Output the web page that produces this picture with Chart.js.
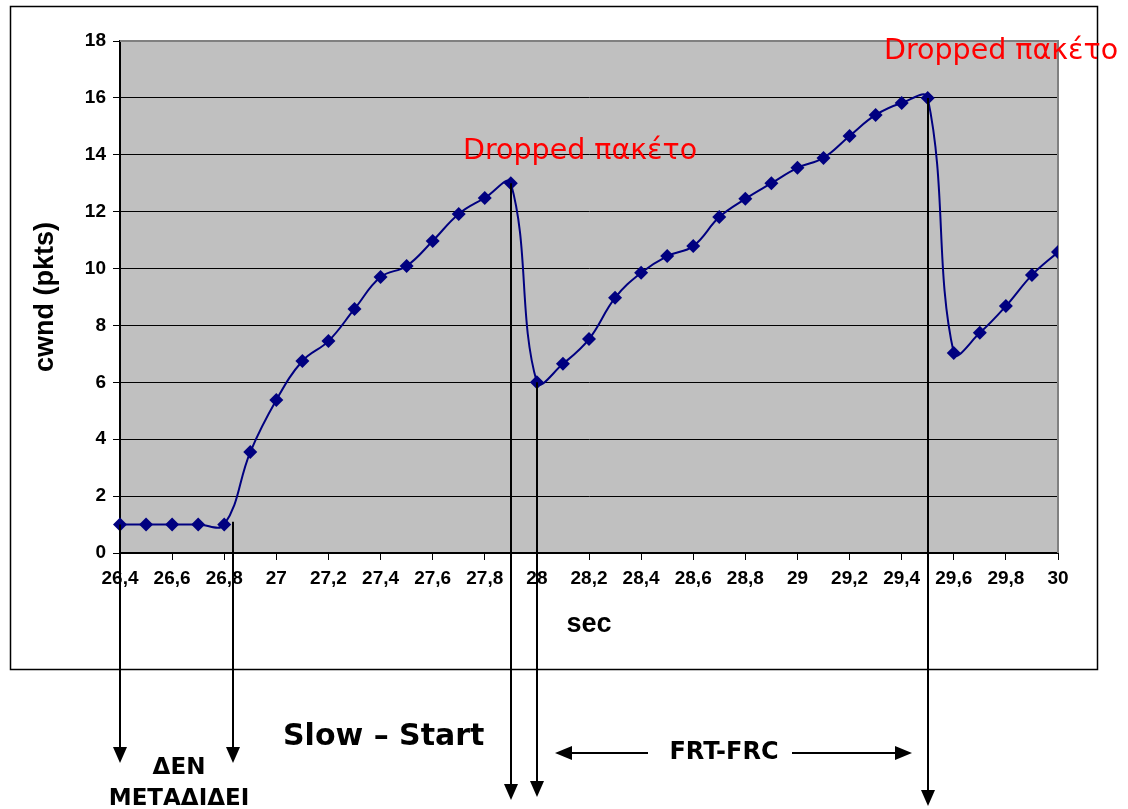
<!DOCTYPE html>
<html>
<head>
<meta charset="utf-8">
<title>cwnd</title>
<script src="https://cdn.jsdelivr.net/npm/chart.js@4.4.0/dist/chart.umd.min.js"></script>
<style>
    html, body { margin: 0; padding: 0; background: #fff; }
    #wrap { position: relative; width: 1128px; height: 809px; }
</style>
</head>
<body>
<div id="wrap"><canvas id="cwndChart"></canvas></div>
<script>
// time axis (sec) and congestion window (pkts)
const times = [26.4, 26.5, 26.6, 26.7, 26.8, 26.9,
    27.0, 27.1, 27.2, 27.3, 27.4, 27.5, 27.6, 27.7, 27.8, 27.9,
    28.0, 28.1, 28.2, 28.3, 28.4, 28.5, 28.6, 28.7, 28.8, 28.9,
    29.0, 29.1, 29.2, 29.3, 29.4, 29.5, 29.6, 29.7, 29.8, 29.9,
    30.0];
const cwnd = [1, 1, 1, 1, 1, 3.55,
    5.38, 6.75, 7.45, 8.58, 9.7, 10.09, 10.97, 11.92, 12.48, 13,
    6, 6.65, 7.52, 8.97, 9.85, 10.44, 10.79, 11.81, 12.45, 13.0,
    13.54, 13.89, 14.66, 15.4, 15.82, 16, 7.03, 7.74, 8.68, 9.77,
    10.58];

// x range and tick steps
const xMin = 26.4, xMax = 30, xStep = 0.2;
const yMin = 0, yMax = 18, yStep = 2;

// marker lines dropped from the curve: time and cwnd where they start
const markTimes = [26.4, 26.835, 27.9, 28.0, 29.5];
const markStart = [1, 1.1, 13, 6, 16];

const labelFont = '"Liberation Sans", Arial, sans-serif';
const noteFont = '"DejaVu Sans", Verdana, sans-serif';

function arrowDown(ctx, x, y0, y1) {
    ctx.beginPath();
    ctx.moveTo(x, y0);
    ctx.lineTo(x, y1 - 14);
    ctx.stroke();
    ctx.beginPath();
    ctx.moveTo(x - 7, y1 - 16);
    ctx.lineTo(x + 7, y1 - 16);
    ctx.lineTo(x, y1);
    ctx.closePath();
    ctx.fill();
}

function arrowSide(ctx, xTail, xTip, y) {
    const dir = xTip > xTail ? 1 : -1;
    ctx.beginPath();
    ctx.moveTo(xTail, y);
    ctx.lineTo(xTip - dir * 14, y);
    ctx.stroke();
    ctx.beginPath();
    ctx.moveTo(xTip - dir * 17, y - 7);
    ctx.lineTo(xTip - dir * 17, y + 7);
    ctx.lineTo(xTip, y);
    ctx.closePath();
    ctx.fill();
}

const decor = {
    id: 'decor',
    beforeDraw(chart) {
        const ctx = chart.ctx, a = chart.chartArea;
        ctx.save();
        ctx.fillStyle = '#fff';
        ctx.fillRect(0, 0, chart.width, chart.height);
        // outer frame
        ctx.strokeStyle = '#000';
        ctx.lineWidth = 1.5;
        ctx.strokeRect(10.5, 6.5, 1087, 663);
        // plot background
        ctx.fillStyle = '#c0c0c0';
        ctx.fillRect(a.left, a.top, a.right - a.left, a.bottom - a.top);
        ctx.restore();
    },
    beforeDatasetsDraw(chart) {
        const ctx = chart.ctx, a = chart.chartArea;
        ctx.save();
        ctx.strokeStyle = '#808080';
        ctx.lineWidth = 2;
        ctx.beginPath();
        ctx.moveTo(a.left, a.top);
        ctx.lineTo(a.right, a.top);
        ctx.lineTo(a.right, a.bottom);
        ctx.stroke();
        ctx.restore();
    },
    afterDraw(chart) {
        const ctx = chart.ctx;
        const xs = chart.scales.x, ys = chart.scales.y;
        const tips = [763, 763, 800, 797, 806];
        ctx.save();
        ctx.strokeStyle = '#000';
        ctx.fillStyle = '#000';
        ctx.lineWidth = 2;
        markTimes.forEach((t, i) => {
            const px = Math.round(xs.getPixelForValue(t));
            arrowDown(ctx, px, ys.getPixelForValue(markStart[i]), tips[i]);
        });

        // FRT-FRC span
        arrowSide(ctx, 648, 555, 753);
        arrowSide(ctx, 792, 912, 753);

        ctx.textBaseline = 'middle';
        ctx.textAlign = 'center';
        ctx.font = 'bold 24px ' + noteFont;
        ctx.fillText('FRT-FRC', 724, 753);
        ctx.font = 'bold 23px ' + noteFont;
        ctx.fillText('ΔΕΝ', 179, 768);
        ctx.fillText('ΜΕΤΑΔΙΔΕΙ', 179, 799);

        ctx.textAlign = 'left';
        ctx.font = 'bold 30px ' + noteFont;
        ctx.fillText('Slow – Start', 283, 737);

        // drop annotations
        ctx.fillStyle = '#ff0000';
        ctx.font = '28.5px ' + noteFont;
        ctx.fillText('Dropped πακέτο', 463, 152);
        ctx.fillText('Dropped πακέτο', 884, 52);
        ctx.restore();
    }
};

const ctx = document.getElementById('cwndChart').getContext('2d');
new Chart(ctx, {
    type: 'line',
    data: {
        datasets: [{
            label: 'cwnd',
            data: times.map((t, i) => ({ x: t, y: cwnd[i] })),
            borderColor: '#000080',
            backgroundColor: '#000080',
            borderWidth: 2,
            pointStyle: 'rectRot',
            pointRadius: 7,
            pointBorderWidth: 0,
            tension: 0.4,
            fill: false,
            clip: { left: 8, top: 8, right: 0, bottom: 8 }
        }]
    },
    options: {
        responsive: true,
        maintainAspectRatio: false,
        animation: false,
        layout: {
            padding: { left: 10, top: 41, right: 70, bottom: 156 }
        },
        plugins: {
            legend: { display: false },
            tooltip: { enabled: false }
        },
        scales: {
            x: {
                type: 'linear',
                min: xMin,
                max: xMax,
                afterFit: s => { s.height = 100; },
                ticks: {
                    stepSize: xStep,
                    autoSkip: false,
                    maxRotation: 0,
                    padding: 7,
                    color: '#000',
                    font: { family: labelFont, size: 19, weight: 'bold' },
                    callback: v => String(Math.round(v * 10) / 10).replace('.', ',')
                },
                grid: {
                    drawOnChartArea: false,
                    tickLength: 7,
                    color: '#000'
                },
                border: { color: '#000', width: 2 },
                title: {
                    display: true,
                    text: 'sec',
                    color: '#000',
                    font: { family: labelFont, size: 27, weight: 'bold' },
                    padding: { top: 0, bottom: 12 }
                }
            },
            y: {
                min: yMin,
                max: yMax,
                afterFit: s => { s.width = 110; },
                ticks: {
                    stepSize: yStep,
                    padding: 7,
                    color: '#000',
                    font: { family: labelFont, size: 19, weight: 'bold' }
                },
                grid: {
                    color: c => (c.tick && c.tick.value === yMax) ? '#808080' : '#000',
                    tickColor: '#000',
                    tickLength: 7,
                    lineWidth: 1
                },
                border: { color: '#000', width: 2 },
                title: {
                    display: true,
                    text: 'cwnd (pkts)',
                    color: '#000',
                    font: { family: labelFont, size: 27, weight: 'bold' },
                    padding: { top: 19, bottom: 0 }
                }
            }
        }
    },
    plugins: [decor]
});
</script>
</body>
</html>
